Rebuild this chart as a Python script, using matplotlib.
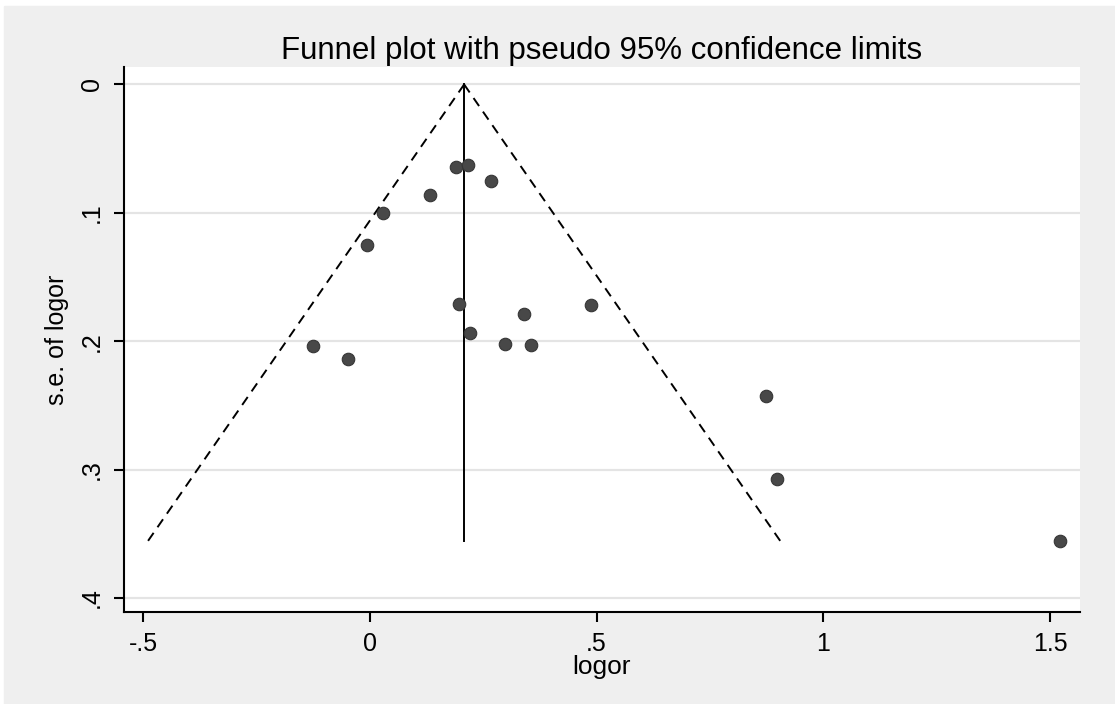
import numpy as np
import matplotlib
matplotlib.use("Agg")
import matplotlib.pyplot as plt
from matplotlib.patches import Rectangle

# study estimates
logor = [0.191, 0.216, 0.268, 0.132, 0.029, -0.006, 0.197, 0.340, 0.487,
         0.221, 0.298, 0.355, -0.125, -0.049, 0.873, 0.897, 1.522]
se_logor = [0.064, 0.063, 0.0755, 0.086, 0.100, 0.125, 0.171, 0.179, 0.172,
            0.194, 0.202, 0.203, 0.204, 0.214, 0.243, 0.307, 0.356]
pooled = 0.208          # fixed-effect pooled log OR (vertical line)
x_ticks = [-0.5, 0, 0.5, 1, 1.5]
x_ticklabels = ["-.5", "0", ".5", "1", "1.5"]
y_ticks = [0, 0.1, 0.2, 0.3, 0.4]
y_ticklabels = ["0", ".1", ".2", ".3", ".4"]

plt.rcParams["font.family"] = ["Liberation Sans", "DejaVu Sans"]

fig = plt.figure(figsize=(11.15, 7.04), dpi=100, facecolor="white")
fig.patches.append(Rectangle((4 / 1115, 0), 1, 1 - 6 / 704,
                             transform=fig.transFigure, color="#efefef",
                             zorder=-10))
ax = fig.add_axes([124 / 1115, 1 - 612 / 704, 956 / 1115, 545 / 704])
ax.set_facecolor("white")

se_max = max(se_logor)
s = np.array([0.0, se_max])
ax.plot(pooled - 1.96 * s, s, color="black", ls=(0, (5, 3.5)), lw=1.4)
ax.plot(pooled + 1.96 * s, s, color="black", ls=(0, (5, 3.5)), lw=1.4)
ax.plot([pooled, pooled], [0, se_max], color="black", lw=1.4)
ax.plot(logor, se_logor, "o", color="#484848", mec="#363636", ms=9, mew=0.8,
        zorder=3)

ax.set_xlim(-0.542, 1.566)
ax.set_ylim(0.411, -0.0136)
ax.set_xticks(x_ticks, x_ticklabels)
ax.set_yticks(y_ticks, y_ticklabels, rotation=90, va="center")
ax.grid(axis="y", color="#e4e4e4", lw=1.6)
ax.set_axisbelow(True)
for side in ("top", "right"):
    ax.spines[side].set_visible(False)
for side in ("left", "bottom"):
    ax.spines[side].set_linewidth(1.5)
ax.tick_params(length=7.5, width=1.5, labelsize=18, pad=7)
ax.set_xlabel("logor", fontsize=19, labelpad=-1)
ax.set_ylabel("s.e. of logor", fontsize=18, labelpad=8)
ax.set_title("Funnel plot with pseudo 95% confidence limits", fontsize=22.5, pad=6)

fig.savefig("out.png", dpi=100, facecolor=fig.get_facecolor())
